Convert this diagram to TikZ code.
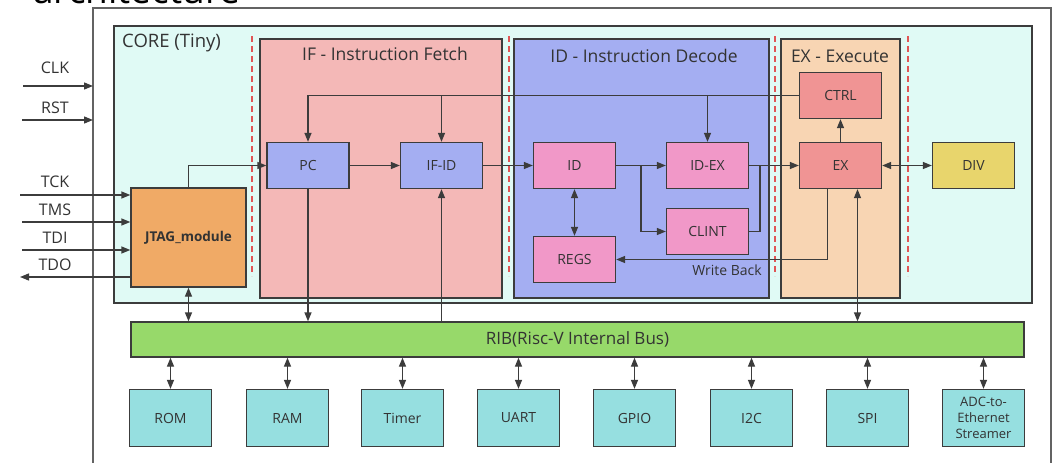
\documentclass[tikz,border=0pt]{standalone}
\usepackage{fontspec}
\setmainfont{Open Sans}
\usetikzlibrary{arrows.meta,calc}
\definecolor{ln}{HTML}{3C3C3C}
\definecolor{corefill}{HTML}{E0FAF5}
\definecolor{iffill}{HTML}{F4B8B7}
\definecolor{idfill}{HTML}{A4AEF2}
\definecolor{exfill}{HTML}{F8D5B3}
\definecolor{pinkfill}{HTML}{F198C8}
\definecolor{redfill}{HTML}{F09494}
\definecolor{divfill}{HTML}{E8D56C}
\definecolor{jtagfill}{HTML}{F0AA66}
\definecolor{busfill}{HTML}{97D96A}
\definecolor{perfill}{HTML}{96DFE0}
\definecolor{dashred}{HTML}{E05555}
\definecolor{txt}{HTML}{333333}
\tikzset{
  box/.style={draw=ln, line width=1.3pt, rectangle, inner sep=0pt, text=txt, font=\fontsize{14}{16}\selectfont},
  blk/.style={box, minimum width=82, minimum height=46},
  per/.style={box, fill=perfill, minimum width=82, minimum height=57},
  arr/.style={draw=ln, line width=1.3pt, -{Triangle[length=9pt,width=7pt]}},
  dar/.style={draw=ln, line width=1.3pt, {Triangle[length=9pt,width=7pt]}-{Triangle[length=9pt,width=7pt]}},
  pl/.style={draw=ln, line width=1.3pt},
  redline/.style={draw=dashred, line width=1.2pt, dash pattern=on 6pt off 4pt},
  title/.style={text=txt, font=\fontsize{17.5}{19}\selectfont, inner sep=0pt},
  sig/.style={text=txt, font=\fontsize{16}{18}\selectfont, inner sep=0pt},
}
\begin{document}
\begin{tikzpicture}[x=1pt,y=-1pt]
\useasboundingbox (0,0) rectangle (1053,463);
\fill[white] (0,0) rectangle (1053,463);
% heading, cut off at the top edge as in the reference
\begin{scope}
\clip (0,0) rectangle (1053,463);
\node[anchor=base west, inner sep=0pt, text=black, font=\fontsize{37}{39}\selectfont] (head) at (33,3) {architecture};
\end{scope}
% outer box
\coordinate (otl) at (93,8);
\coordinate (otr) at (1051,8);
\draw[pl, line width=1.1pt, draw=ln!80] (93,463) -- (otl) -- (otr) -- (1051,463);
% core
\node[box, fill=corefill, minimum width=918, minimum height=277] (core) at (573,164.5) {};
\node[title, anchor=north west, font=\fontsize{18.5}{20}\selectfont] (coret) at (122,34) {CORE (Tiny)};
% stage boxes
\node[box, fill=iffill, minimum width=242, minimum height=259] (ifb) at (381,168.5) {};
\node[box, fill=idfill, minimum width=255, minimum height=259] (idb) at (641.5,168.5) {};
\node[box, fill=exfill, minimum width=119, minimum height=259] (exb) at (840.5,168.5) {};
\node[title] (ift) at (385,54) {IF - Instruction Fetch};
\node[title] (idt) at (644,56) {ID - Instruction Decode};
\node[title] (ext) at (840,56) {EX - Execute};
% dashed separators
\foreach \x in {252,509,775,908} \draw[redline] (\x,36) -- (\x,276);
% blocks
\node[blk, fill=idfill] (pc) at (308,165.5) {PC};
\node[blk, fill=idfill] (ifid) at (441.5,165.5) {IF-ID};
\node[blk, fill=pinkfill] (id) at (574.5,165.5) {ID};
\node[blk, fill=pinkfill] (idex) at (707.5,165.5) {ID-EX};
\node[blk, fill=pinkfill] (clint) at (707.5,231.5) {CLINT};
\node[blk, fill=pinkfill] (regs) at (574.5,259.5) {REGS};
\node[blk, fill=redfill] (ctrl) at (840.5,95.5) {CTRL};
\node[blk, fill=redfill] (ex) at (840.5,165.5) {EX};
\node[blk, fill=divfill] (div) at (973.5,165.5) {DIV};
\node[box, fill=jtagfill, minimum width=115, minimum height=99, font=\fontsize{13.5}{15}\selectfont\bfseries] (jtag) at (188.5,237.5) {JTAG\_module};
% bus
\node[box, fill=busfill, minimum width=893, minimum height=35, font=\fontsize{17}{19}\selectfont] (bus) at (577.5,339.5) {RIB(Risc-V Internal Bus)};
% peripherals
\node[per] (rom) at (170.5,418) {ROM};
\node[per] (ram) at (287.5,418) {RAM};
\node[per] (timer) at (402.5,418) {Timer};
\node[per] (uart) at (518.5,418) {UART};
\node[per] (gpio) at (634.5,418) {GPIO};
\node[per] (itc) at (751.5,418) {I2C};
\node[per] (spi) at (867.5,418) {SPI};
\node[per, align=center, font=\fontsize{13}{16}\selectfont] (adc) at (983.5,418) {ADC-to-\\Ethernet\\Streamer};
\foreach \p in {rom,ram,timer,uart,gpio,itc,spi,adc}
  \draw[dar] (bus.south -| \p.north) -- (\p.north);
% core connections
\draw[arr] (jtag.north) |- (pc.west);
\draw[arr] (ctrl.west) -| (pc.north);
\draw[arr] (ctrl.west -| ifid.north) -- (ifid.north);
\draw[arr] (ctrl.west -| idex.north) -- (idex.north);
\draw[arr] (pc.east) -- (ifid.west);
\draw[arr] (ifid.east) -- (id.west);
\draw[arr] (id.east) -- (idex.west);
\coordinate (br) at (641,165.5);
\draw[arr] (br) |- (clint.west);
\coordinate (cj) at (760,165.5);
\draw[pl] (clint.east) -| (cj);
\draw[arr] (idex.east) -- (ex.west);
\draw[arr] (ex.north) -- (ctrl.south);
\draw[dar] (ex.east) -- (div.west);
\draw[arr] ([xshift=-13pt]ex.south) |- (regs.east);
\node[text=txt, font=\fontsize{14}{16}\selectfont, inner sep=0pt] (wb) at (727,270) {Write Back};
\draw[dar] (id.south) -- (regs.north);
% bus connections
\draw[dar] ([xshift=17pt]ex.south) -- ([xshift=17pt]ex.south |- bus.north);
\draw[arr] (pc.south) -- (pc.south |- bus.north);
\draw[arr] (ifid.south |- bus.north) -- (ifid.south);
\draw[dar] (jtag.south) -- (jtag.south |- bus.north);
% external signals
\coordinate (clkin) at (23,86);
\coordinate (rstin) at (22,120);
\draw[arr] (clkin) -- (clkin -| otl);
\draw[arr] (rstin) -- (rstin -| otl);
\node[sig] (clkl) at (55,68) {CLK};
\node[sig] (rstl) at (55,108) {RST};
\coordinate (tckin) at (20,195);
\coordinate (tmsin) at (22,222);
\coordinate (tdiin) at (22,250);
\coordinate (tdoout) at (20,277);
\draw[arr] (tckin) -- (tckin -| jtag.west);
\draw[arr] (tmsin) -- (tmsin -| jtag.west);
\draw[arr] (tdiin) -- (tdiin -| jtag.west);
\draw[arr] (tdoout -| jtag.west) -- (tdoout);
\node[sig] (tckl) at (55,182) {TCK};
\node[sig] (tmsl) at (55,210) {TMS};
\node[sig] (tdil) at (55,238) {TDI};
\node[sig] (tdol) at (55,265) {TDO};
\end{tikzpicture}
\end{document}
